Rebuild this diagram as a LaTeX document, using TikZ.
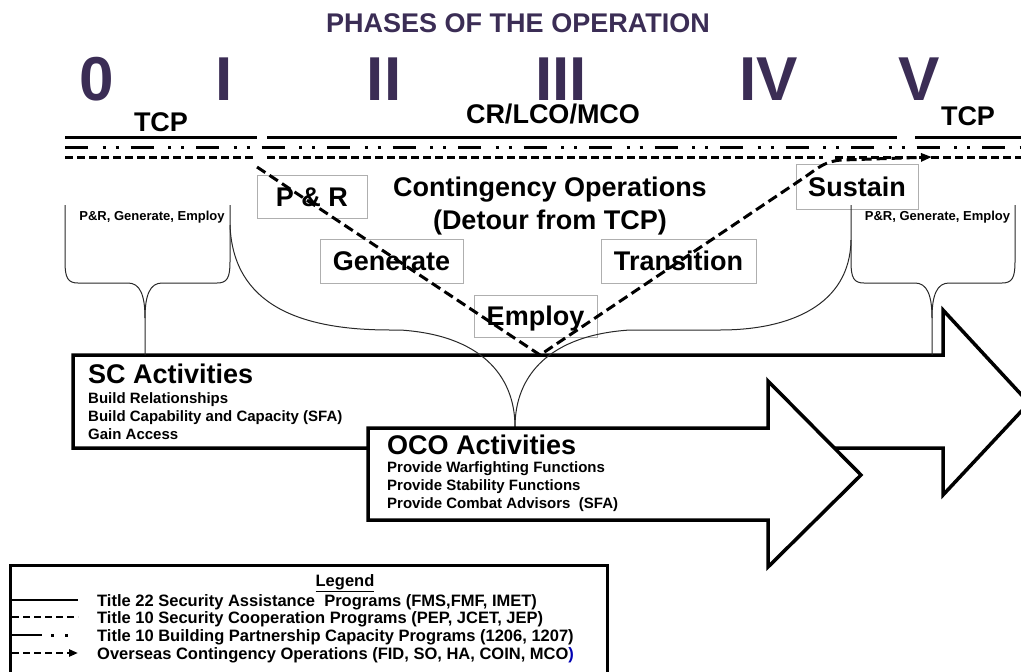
\documentclass[tikz,border=0pt]{standalone}
\usepackage{fontspec}
\setmainfont{Liberation Sans}
\usetikzlibrary{arrows.meta}
\definecolor{phase}{RGB}{59,45,85}
\definecolor{boxgray}{RGB}{175,175,175}
\definecolor{bracecol}{RGB}{40,40,40}
\newcommand\fsz[1]{\fontsize{#1}{#1}\selectfont}
\begin{document}
\begin{tikzpicture}[x=1pt,y=-1pt,
  txt/.style={inner sep=0pt, anchor=base, font=\bfseries\fsz{27}},
  phasenum/.style={inner sep=0pt, anchor=base, text=phase, font=\bfseries\fsz{62}},
  gbox/.style={draw=boxgray, line width=1pt, inner sep=0pt, text height=19.3pt, text depth=0pt, font=\bfseries\fsz{27}},
  smalltxt/.style={inner sep=0pt, anchor=base west, font=\bfseries\fsz{15}},
  tinytxt/.style={inner sep=0pt, anchor=base, font=\bfseries\fsz{13}},
  legtxt/.style={inner sep=0pt, anchor=base west, font=\bfseries\fsz{16.5}},
  bracestyle/.style={line width=1pt, draw=bracecol},
  fatarrow/.style={line width=3.5pt, fill=white, line join=miter},
  topsolid/.style={line width=3pt},
  topdashdot/.style={line width=3pt, dash pattern=on 23pt off 14.5pt on 3pt off 10pt on 3pt off 12pt},
  topdash/.style={line width=3pt, dash pattern=on 8pt off 4pt},
  ocopath/.style={line width=3pt, dash pattern=on 10pt off 5pt, -{Triangle[length=11pt,width=8pt]}},
  legline/.style={line width=2.5pt}]
\useasboundingbox (0,0) rectangle (1021,672);
\clip (0,0) rectangle (1021,672);

% title and phases
\node[txt, text=phase] (title) at (518,32) {PHASES OF THE OPERATION};
\node[phasenum] (p0) at (97,100) {0};
\node[phasenum] (p1) at (224,100) {I};
\node[phasenum] (p2) at (384,100) {II};
\node[phasenum] (p3) at (561,100) {III};
\node[phasenum] (p4) at (769,100) {IV};
\node[phasenum] (p5) at (919,100) {V};

\node[txt] (tcpA) at (161,131) {TCP};
\node[txt] (crl) at (553,123) {CR/LCO/MCO};
\node[txt] (tcpB) at (968,125) {TCP};

% top lines
\draw[topsolid] (65,137.5) -- (257,137.5);
\draw[topsolid] (267,137.5) -- (897,137.5);
\draw[topsolid] (915,137.5) -- (1021,137.5);
\draw[topdashdot] (65,147.5) -- (1025,147.5);
\draw[topdash] (65,157) -- (253,157);
\draw[topdash] (267,157) -- (823,157);
\draw[topdash] (835,157) -- (1025,157);

% contingency operations text
\node[txt] (cont1) at (550,196) {Contingency Operations};
\node[txt] (cont2) at (550,229) {(Detour from TCP)};

% step boxes
\node[gbox, minimum width=110pt, minimum height=43pt] (pr) at (312,196.5) {P \& R};
\node[gbox, minimum width=143pt, minimum height=44pt] (gen) at (391.5,261) {Generate};
\node[gbox, minimum width=123pt, minimum height=42pt] (emp) at (535.5,316) {Employ};
\node[gbox, minimum width=155pt, minimum height=44pt] (tra) at (678.5,261) {Transition};
\node[gbox, minimum width=122pt, minimum height=45pt] (sus) at (857,186.5) {Sustain};

% brace labels
\node[tinytxt] (bl) at (152,220) {P\&R, Generate, Employ};
\node[tinytxt] (br) at (937.5,220) {P\&R, Generate, Employ};

% SC arrow
\draw[fatarrow] (73,355) -- (943,355) -- (943,310) -- (1029,403) -- (943,495) -- (943,448) -- (73,448) -- cycle;
\node[txt, anchor=base west] (sct) at (88,383) {SC Activities};
\node[smalltxt] (sc1) at (88,403) {Build Relationships};
\node[smalltxt] (sc2) at (88,421) {Build Capability and Capacity (SFA)};
\node[smalltxt] (sc3) at (88,439) {Gain Access};

% braces
\draw[bracestyle] (65,205) -- (65,262) .. controls (65,278) and (68,283) .. (78,283) -- (128,283) .. controls (140,283) and (145,295) .. (145,318) -- (145,355);
\draw[bracestyle] (230,205) -- (230,262) .. controls (230,278) and (227,283) .. (217,283) -- (162,283) .. controls (150,283) and (145,295) .. (145,318);
\draw[bracestyle] (230,225) .. controls (233,305) and (300,330) .. (390,330) -- (400,330) .. controls (480,335) and (515,375) .. (515,427);
\draw[bracestyle] (851,205) -- (851,240) .. controls (850,305) and (790,330) .. (720,330) -- (630,330) .. controls (550,335) and (515,375) .. (515,427);
\draw[bracestyle] (851,240) -- (851,262) .. controls (851,278) and (854,283) .. (864,283) -- (915,283) .. controls (927,283) and (932,295) .. (932,318) -- (932,355);
\draw[bracestyle] (1015,205) -- (1015,262) .. controls (1015,278) and (1012,283) .. (1002,283) -- (949,283) .. controls (937,283) and (932,295) .. (932,318);

% OCO arrow
\draw[fatarrow] (368,428) -- (768,428) -- (768,381) -- (861,475) -- (768,567) -- (768,520) -- (368,520) -- cycle;
\node[txt, anchor=base west] (ocot) at (387,454) {OCO Activities};
\node[smalltxt] (oc1) at (387,472) {Provide Warfighting Functions};
\node[smalltxt] (oc2) at (387,490) {Provide Stability Functions};
\node[smalltxt] (oc3) at (387,508) {Provide Combat Advisors\ \ (SFA)};

% OCO dashed path
\coordinate (d0) at (257,167);
\coordinate (d1) at (540,355);
\coordinate (d2) at (805,177);
\coordinate (d3) at (932,157);
\draw[ocopath] (d0) -- (d1) -- (d2) .. controls (818,168) and (825,161) .. (842,160) -- (d3);

% legend
\draw[line width=3pt] (10,700) -- (10,565) -- (607,565) -- (607,700);
\node[inner sep=0pt, anchor=base, font=\bfseries\fsz{16.5}] (legt) at (345,586) {\underline{Legend}};
\draw[legline] (12,600) -- (78,600);
\node[legtxt] (lg1) at (97,606) {Title 22 Security Assistance\ \ Programs (FMS,FMF, IMET)};
\draw[legline, dash pattern=on 7pt off 4pt] (12,617) -- (78,617);
\node[legtxt] (lg2) at (97,623) {Title 10 Security Cooperation Programs (PEP, JCET, JEP)};
\draw[legline] (12,635) -- (42,635);
\fill (50.5,633.5) rectangle +(3,3);
\fill (64.5,633.5) rectangle +(3,3);
\node[legtxt] (lg3) at (97,641) {Title 10 Building Partnership Capacity Programs (1206, 1207)};
\draw[legline, dash pattern=on 7pt off 4pt, -{Triangle[length=9pt,width=7pt]}] (12,653) -- (78,653);
\node[legtxt] (lg4) at (97,659) {Overseas Contingency Operations (FID, SO, HA, COIN, MCO{\color{blue!70!black})}};
\end{tikzpicture}
\end{document}
